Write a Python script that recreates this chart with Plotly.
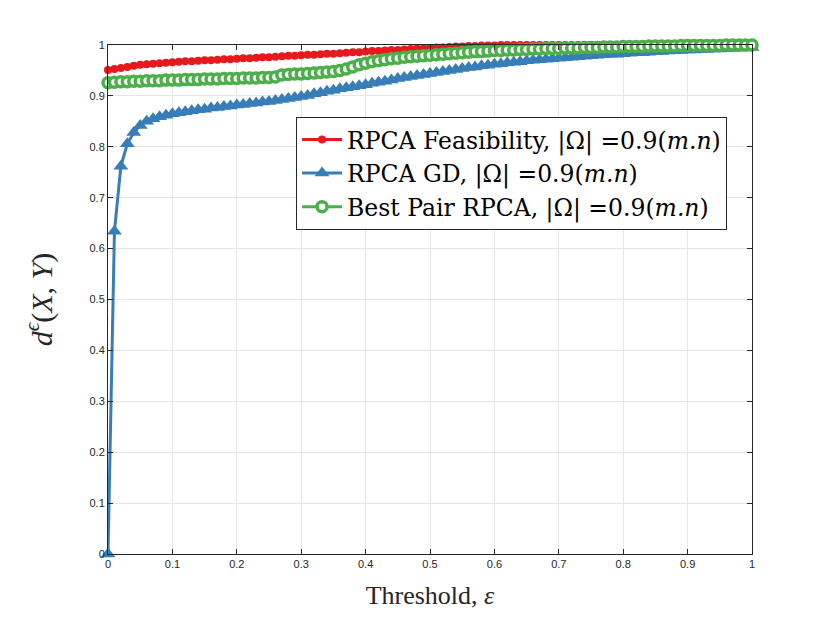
import plotly.graph_objects as go

# threshold grid, 0 to 1 in steps of 0.01
threshold = [i / 100 for i in range(101)]

# RPCA Feasibility
rpca_feasibility = [
    0.951, 0.953, 0.955, 0.957, 0.959, 0.961, 0.962, 0.963, 0.964, 0.965,
    0.966, 0.967, 0.968, 0.968, 0.969, 0.970, 0.970, 0.971, 0.972, 0.972,
    0.973, 0.974, 0.974, 0.975, 0.976, 0.976, 0.977, 0.978, 0.979, 0.979,
    0.980, 0.981, 0.981, 0.982, 0.983, 0.983, 0.984, 0.985, 0.986, 0.986,
    0.987, 0.988, 0.988, 0.989, 0.990, 0.990, 0.991, 0.992, 0.993, 0.993,
    0.994, 0.995, 0.995, 0.996, 0.997, 0.997, 0.998, 0.998, 0.999, 0.999,
    0.999, 1.000, 1.000, 1.000, 1.000, 1.000, 1.000, 1.000, 1.000, 1.000,
    1.000, 1.000, 1.000, 1.000, 1.000, 1.000, 1.000, 1.000, 1.000, 1.000,
    1.000, 1.000, 1.000, 1.000, 1.000, 1.000, 1.000, 1.000, 1.000, 1.000,
    1.000, 1.000, 1.000, 1.000, 1.000, 1.000, 1.000, 1.000, 1.000, 1.000,
    1.000,
]

# RPCA GD
rpca_gd = [
    0.000, 0.634, 0.762, 0.806, 0.828, 0.842, 0.850, 0.855, 0.859, 0.862,
    0.865, 0.867, 0.869, 0.871, 0.873, 0.874, 0.876, 0.877, 0.879, 0.880,
    0.882, 0.883, 0.885, 0.886, 0.888, 0.889, 0.891, 0.893, 0.895, 0.897,
    0.899, 0.901, 0.904, 0.906, 0.909, 0.911, 0.914, 0.916, 0.918, 0.920,
    0.922, 0.925, 0.927, 0.929, 0.931, 0.934, 0.936, 0.938, 0.940, 0.942,
    0.944, 0.946, 0.948, 0.950, 0.952, 0.954, 0.956, 0.957, 0.959, 0.960,
    0.962, 0.963, 0.965, 0.966, 0.967, 0.969, 0.970, 0.971, 0.972, 0.973,
    0.974, 0.975, 0.976, 0.977, 0.978, 0.979, 0.980, 0.981, 0.982, 0.982,
    0.983, 0.984, 0.985, 0.985, 0.986, 0.987, 0.987, 0.988, 0.989, 0.989,
    0.990, 0.990, 0.991, 0.991, 0.992, 0.992, 0.993, 0.993, 0.994, 0.994,
    0.995,
]

# Best Pair RPCA
best_pair = [
    0.926, 0.927, 0.928, 0.928, 0.929, 0.929, 0.930, 0.930, 0.930, 0.931,
    0.931, 0.931, 0.932, 0.932, 0.932, 0.933, 0.933, 0.933, 0.934, 0.934,
    0.934, 0.935, 0.935, 0.935, 0.936, 0.936, 0.937, 0.941, 0.942, 0.943,
    0.943, 0.944, 0.945, 0.946, 0.947, 0.948, 0.950, 0.953, 0.957, 0.961,
    0.964, 0.967, 0.969, 0.971, 0.973, 0.974, 0.976, 0.977, 0.978, 0.979,
    0.980, 0.981, 0.982, 0.983, 0.984, 0.985, 0.986, 0.987, 0.987, 0.988,
    0.989, 0.989, 0.990, 0.990, 0.991, 0.991, 0.992, 0.992, 0.993, 0.993,
    0.993, 0.994, 0.994, 0.994, 0.995, 0.995, 0.995, 0.996, 0.996, 0.996,
    0.997, 0.997, 0.997, 0.997, 0.998, 0.998, 0.998, 0.998, 0.998, 0.999,
    0.999, 0.999, 0.999, 0.999, 0.999, 0.999, 1.000, 1.000, 1.000, 1.000,
    1.000,
]

tick_vals = [i / 10 for i in range(11)]
tick_text = ["0", "0.1", "0.2", "0.3", "0.4", "0.5", "0.6", "0.7", "0.8", "0.9", "1"]

red = "#E41A1C"
blue = "#377EB8"
green = "#4DAF4A"
suffix = ", |Ω| =0.9(<i>m.n</i>)"

fig = go.Figure()

fig.add_trace(go.Scatter(
    x=threshold, y=rpca_feasibility, mode="lines+markers",
    name="RPCA Feasibility" + suffix,
    line=dict(color=red, width=3),
    marker=dict(symbol="circle", size=8, color=red),
    cliponaxis=False,
))
fig.add_trace(go.Scatter(
    x=threshold, y=rpca_gd, mode="lines+markers",
    name="RPCA GD" + suffix,
    line=dict(color=blue, width=3),
    marker=dict(symbol="triangle-up", size=13, color=blue),
    cliponaxis=False,
))
fig.add_trace(go.Scatter(
    x=threshold, y=best_pair, mode="lines+markers",
    name="Best Pair RPCA" + suffix,
    line=dict(color=green, width=3),
    marker=dict(symbol="circle", size=10, color="white", line=dict(color=green, width=3.5)),
    cliponaxis=False,
))

axis_common = dict(
    range=[0, 1],
    tickvals=tick_vals,
    ticktext=tick_text,
    showgrid=True,
    gridcolor="#e6e6e6",
    gridwidth=1,
    zeroline=False,
    showline=True,
    linecolor="#262626",
    linewidth=1,
    mirror="ticks",
    ticks="inside",
    ticklen=5,
    tickcolor="#262626",
    tickfont=dict(family="Liberation Sans, Arial", size=11, color="#262626"),
    automargin=False,
)

# the page body adds 8px, so margins are shifted to match the reference
fig.update_layout(
    width=830,
    height=623,
    paper_bgcolor="white",
    plot_bgcolor="white",
    margin=dict(l=100, r=86, t=37, b=77),
    xaxis=dict(
        **axis_common,
        title=dict(text="Threshold, <i>ε</i>",
                   font=dict(family="Liberation Serif, serif", size=26, color="#262626"),
                   standoff=16),
    ),
    yaxis=dict(
        **axis_common,
        title=dict(text="<i>d</i><sup><i>ϵ</i></sup>(<i>X</i>, <i>Y</i>)",
                   font=dict(family="Liberation Serif, serif", size=30, color="#262626"),
                   standoff=28),
    ),
    legend=dict(
        x=0.292, y=0.859, xanchor="left", yanchor="top",
        bgcolor="white",
        bordercolor="#262626",
        borderwidth=1,
        font=dict(family="DejaVu Serif, serif", size=23.5, color="black"),
        itemwidth=40,
        tracegroupgap=0,
    ),
    showlegend=True,
)

fig.write_html("out.html")
